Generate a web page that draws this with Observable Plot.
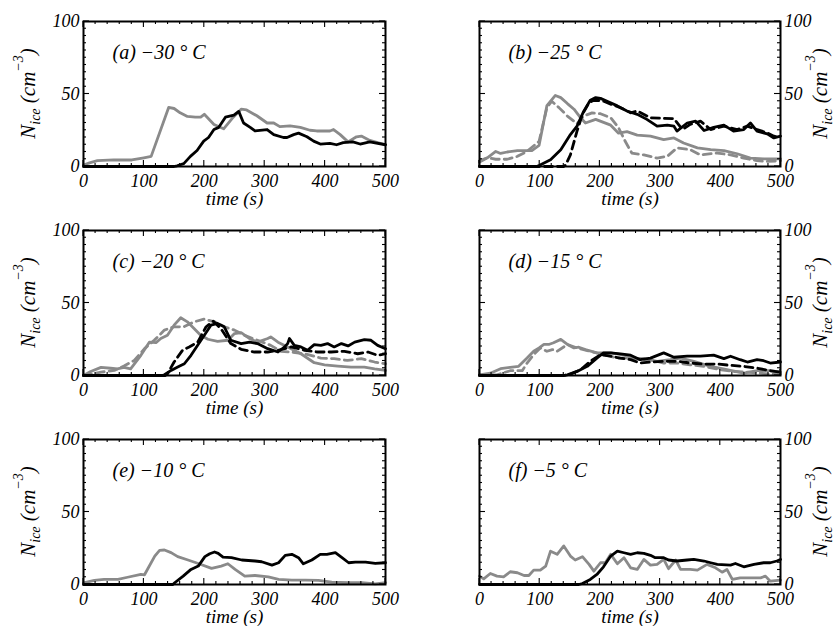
<!DOCTYPE html>
<html><head><meta charset="utf-8">
<script src="https://cdn.jsdelivr.net/npm/d3@7"></script>
<script src="https://cdn.jsdelivr.net/npm/@observablehq/plot@0.6"></script>
<style>
html,body{margin:0;padding:0;background:#fff;overflow:hidden;}
#wrap{position:relative;width:837px;height:626px;overflow:hidden;}
#wrap svg{position:absolute;}
</style></head><body><div id="wrap"></div>
<script>
// ---- tick labels / tick positions ----
const xTickLabels = [0, 100, 200, 300, 400, 500];
const yTickLabels = [0, 50, 100];
const xMinorTicks = [0,20,40,60,80,100,120,140,160,180,200,220,240,260,280,300,320,340,360,380,400,420,440,460,480,500];
const yMinorTicks = [0,5,10,15,20,25,30,35,40,45,50,55,60,65,70,75,80,85,90,95,100];
const xTitle = "time (s)";
const panelLabels = ["(a) −30 ° C", "(b) −25 ° C", "(c) −20 ° C", "(d) −15 ° C", "(e) −10 ° C", "(f) −5 ° C"];

// ---- series: [time (s), N_ice (cm^-3)] ----
const a_gray = [[0,1],[10,2.5],[23,4],[50,4.5],[80,4.5],[100,6],[112,7],[141,40.7],[150,40],[160,37],[172,34.5],[185,34],[194,34],[200,36],[216,29],[232,26],[248,34],[261,39.5],[270,39],[287,35],[304,30],[315,30],[325,27.5],[342,28],[359,27],[375,25],[386,24.5],[408,24.5],[414,25.5],[425,22],[438,17],[452,20.5],[460,21],[474,18],[500,15]];
const a_black = [[0,0],[150,0],[155,0.5],[166,2],[177,7],[188,11],[199,17.5],[207,20],[216,25.5],[224,27],[235,34],[249,35.5],[257,38],[265,30],[276,27],[284,24.5],[304,25.5],[315,22],[331,20],[337,20],[348,22],[356,23],[370,20.5],[381,17.5],[392,15.5],[408,16],[419,15],[430,16.5],[446,17],[458,15.5],[474,17],[500,15]];

const b_gray = [[0,4],[13,6],[27,10.4],[35,9],[46,10],[63,11],[79,11],[87,11],[99,14.6],[112,42],[126,49],[135,47.5],[146,43.4],[157,39.5],[168,33.6],[176,30],[193,32.5],[218,28.5],[231,23],[245,24],[262,21.6],[284,21],[306,18.5],[323,19.7],[339,16.2],[362,12.8],[384,11.6],[406,11],[428,8.8],[450,5.8],[472,5.3],[500,5.3]];
const b_grayDash = [[0,3],[13,6],[27,5],[46,5],[63,7],[79,10.4],[99,17.4],[112,40.6],[120,45],[132,40.6],[146,34.8],[162,29.5],[173,34.8],[187,37],[201,36.4],[218,33.6],[231,26.7],[242,17.4],[253,9.3],[273,8],[295,5.8],[312,7],[328,12.8],[350,11.6],[367,8],[395,9.3],[417,8],[439,5.8],[461,4],[478,3.5],[500,4]];
const b_black = [[0,0],[95,0],[99,0.7],[118,4.6],[135,11.6],[151,22],[162,27.8],[173,38],[184,45.7],[193,47.5],[201,47],[212,45],[229,41.8],[245,38.3],[262,36],[278,32.5],[295,27.8],[312,28.5],[323,27.8],[328,24.4],[345,30],[359,31.3],[373,24.8],[389,27],[406,28.5],[422,24.4],[439,25.5],[450,30],[461,24.4],[478,22.5],[489,19.7],[500,20.9]];
const b_blackDash = [[0,0],[140,0],[143,1],[151,8],[162,24.4],[171,36],[182,44],[190,45.7],[204,45.4],[218,43],[234,40.6],[251,37],[262,38.3],[284,33.6],[306,33.2],[323,33],[337,25.5],[350,29],[367,31.3],[384,25.5],[406,27.8],[428,25.5],[445,27.8],[461,25.5],[478,23.2],[489,20.9],[500,20]];

const c_gray = [[0,0],[12,2.8],[29,5.6],[45,5],[56,4.6],[67,5.6],[78,4.6],[95,13.9],[109,23],[120,22.7],[128,25.5],[139,27.8],[150,34.7],[161,39.8],[172,37],[183,32.4],[194,27.8],[206,25],[222,23.6],[239,24.3],[250,28.9],[261,29.6],[275,25.5],[288,23],[305,25.5],[310,26.6],[322,23],[338,19.7],[360,15],[382,8.8],[399,7.4],[421,6.5],[443,5.8],[465,5.8],[482,4.6],[500,3.5]];
const c_grayDash = [[0,0],[12,1],[29,2.3],[51,3.5],[67,6.5],[84,10.4],[101,18.5],[117,24.3],[134,31.3],[150,33.6],[166,33.6],[183,37],[200,38.9],[217,37],[233,33.6],[250,31.3],[266,27.8],[288,24.3],[310,20.8],[327,16.7],[344,16.2],[366,15],[393,12],[415,11.6],[437,10.4],[460,11.6],[482,9.3],[500,8.1]];
const c_black = [[0,0],[130,0],[134,0.5],[145,3.5],[156,5.8],[167,8.1],[178,13.9],[189,20.8],[200,27.8],[211,34.7],[222,35.9],[233,33.6],[244,24.3],[261,22],[275,23],[288,22],[305,18.5],[322,16.2],[333,19.7],[338,22],[341,25.5],[349,20.8],[360,19.7],[371,17.4],[382,21.3],[393,20.8],[404,22],[415,19.7],[427,22],[438,20.4],[449,23],[465,24.7],[476,24.3],[487,20.8],[500,18.5]];
const c_blackDash = [[0,0],[135,0],[139,1.2],[150,9.3],[164,17.4],[175,19.7],[189,23],[203,33.6],[215,37.5],[228,32],[244,22],[261,18.1],[283,16.2],[305,16.2],[322,17.4],[344,19.7],[366,17.4],[388,16.2],[410,16.2],[432,16.7],[454,15],[471,16.2],[487,13.9],[500,15]];

const d_gray = [[0,0.5],[18,1.6],[35,4.7],[51,5.6],[65,6.3],[79,12],[90,16.7],[99,19],[107,21.4],[115,21.4],[123,22.6],[135,24.9],[146,21.4],[157,19],[165,19.5],[176,17.9],[195,15.6],[218,15.6],[240,14],[256,12],[273,11.6],[295,9.8],[317,10.9],[334,12],[356,9.8],[384,6.3],[411,4],[439,1.6],[461,3.3],[483,3.3],[500,2.3]];
const d_grayDash = [[0,0.5],[29,0.5],[51,3.3],[71,3.3],[79,8.6],[90,14.4],[101,19],[112,16.7],[121,17.9],[129,16.7],[146,21.4],[162,19],[184,16.7],[206,14.4],[229,12],[251,12],[267,10.9],[284,10.9],[306,8.6],[328,8.6],[350,7.4],[373,6.3],[400,4],[422,2.8],[445,2.3],[467,1.6],[483,0.9],[500,0.9]];
const d_black = [[0,0],[140,0],[146,0.5],[162,2.8],[179,6.3],[195,12],[206,15.6],[218,15.6],[234,14.9],[251,14],[267,10.9],[284,12],[306,15.6],[323,12.6],[345,13.3],[367,13.3],[389,14],[406,11.6],[417,13.3],[433,10.9],[445,9.3],[461,10.9],[472,10.2],[483,8.6],[500,9.3]];
const d_blackDash = [[0,0],[140,0],[151,0.9],[168,4],[184,9.8],[201,14.4],[218,13.3],[234,12],[251,10.9],[267,8.6],[284,9.3],[306,9.8],[328,9.8],[350,8.6],[373,7.9],[395,7.9],[417,7],[439,6.3],[461,5.1],[483,3.3],[500,2.3]];

const e_gray = [[0,1.2],[18,2.8],[34,3.5],[57,3.5],[73,5],[95,7],[101,6.7],[118,19.6],[126,23.6],[134,23.8],[145,22],[156,19.2],[173,16.9],[190,14.5],[212,11.1],[228,12.7],[239,14.3],[251,10.4],[267,5.8],[284,6.2],[306,5.3],[323,3.5],[345,3],[367,3],[389,2.8],[411,1.6],[439,1.2],[461,1.2],[483,0.5],[500,1.2]];
const e_black = [[0,0],[148,0],[151,1.2],[165,5.8],[178,10.4],[190,12.7],[201,19.2],[209,21.2],[217,22.4],[223,21.5],[231,18.9],[245,18.5],[262,16.9],[284,16.2],[295,15.7],[312,13.4],[323,15],[334,20.1],[345,20.8],[356,18.5],[364,14.3],[378,16.9],[392,20.8],[403,20.8],[417,21.9],[428,18.5],[439,15],[450,15.5],[467,15.5],[483,14.5],[500,15]];

const f_gray = [[0,5.8],[7,3.9],[18,7.6],[29,5.8],[40,5.3],[51,8.8],[63,8.1],[74,6.2],[82,6.2],[90,9.9],[101,9.9],[110,12.7],[118,23],[129,20.8],[140,26.6],[151,19.6],[159,16.9],[171,19.2],[182,13.9],[190,9.2],[201,15],[209,15],[218,20.8],[229,14.3],[240,18.5],[251,11.5],[262,10.4],[273,17.3],[284,13.4],[295,13.9],[306,17.3],[314,10.9],[326,16.9],[334,10.4],[350,10.4],[362,9.9],[378,13.9],[392,11.5],[403,8.5],[411,10.4],[420,3.5],[433,4.6],[450,4.6],[467,4.6],[475,5.8],[483,2.3],[500,3]];
const f_black = [[0,0],[165,0],[171,0.7],[184,3.5],[195,6.9],[206,12.2],[218,19.6],[229,23],[240,21.9],[251,20.8],[262,21.9],[273,21.5],[284,20.1],[292,18.5],[306,18.5],[314,16.9],[328,16.2],[345,16.9],[356,17.3],[373,16.2],[384,15],[395,13.9],[417,13.4],[425,14.5],[439,12.2],[456,13.9],[472,15],[483,15],[494,16.2],[500,17.3]];

// ---- styles ----
const BLACK = "#000000", GRAY = "#8a8a8a";
const solid = null, dashed = "8,5";

const panels = [
  {label: panelLabels[0], col: 0, row: 0, series: [[a_gray, GRAY, solid], [a_black, BLACK, solid]]},
  {label: panelLabels[1], col: 1, row: 0, series: [[b_grayDash, GRAY, dashed], [b_gray, GRAY, solid], [b_blackDash, BLACK, dashed], [b_black, BLACK, solid]]},
  {label: panelLabels[2], col: 0, row: 1, series: [[c_grayDash, GRAY, dashed], [c_gray, GRAY, solid], [c_blackDash, BLACK, dashed], [c_black, BLACK, solid]]},
  {label: panelLabels[3], col: 1, row: 1, series: [[d_grayDash, GRAY, dashed], [d_gray, GRAY, solid], [d_blackDash, BLACK, dashed], [d_black, BLACK, solid]]},
  {label: panelLabels[4], col: 0, row: 2, series: [[e_gray, GRAY, solid], [e_black, BLACK, solid]]},
  {label: panelLabels[5], col: 1, row: 2, series: [[f_gray, GRAY, solid], [f_black, BLACK, solid]]}
];

const FONT = "'Liberation Serif', 'Times New Roman', serif";

// inward ticks on all four sides, placed with the plot's own scales
function inwardTicks(index, scales, values, dims) {
  const g = d3.create("svg:g").attr("stroke", "black").attr("stroke-width", 1.1).attr("fill", "none");
  const xl = dims.marginLeft, xr = dims.width - dims.marginRight;
  const yt = dims.marginTop, yb = dims.height - dims.marginBottom;
  for (const t of xMinorTicks) {
    const px = scales.x(t), len = xTickLabels.includes(t) ? 6 : 3;
    g.append("line").attr("x1", px).attr("x2", px).attr("y1", yb).attr("y2", yb - len);
    g.append("line").attr("x1", px).attr("x2", px).attr("y1", yt).attr("y2", yt + len);
  }
  for (const v of yMinorTicks) {
    const py = scales.y(v), len = yTickLabels.includes(v) ? 6 : 3;
    g.append("line").attr("y1", py).attr("y2", py).attr("x1", xl).attr("x2", xl + len);
    g.append("line").attr("y1", py).attr("y2", py).attr("x1", xr).attr("x2", xr - len);
  }
  return g.node();
}

function yLabel(side) {
  return (index, scales, values, dims) => {
    const cy = dims.marginTop + (dims.height - dims.marginTop - dims.marginBottom) / 2;
    const x = side === "left" ? dims.marginLeft - 48 : dims.width - dims.marginRight + 47;
    const t = d3.create("svg:text")
      .attr("transform", `translate(${x},${cy}) rotate(-90)`)
      .attr("text-anchor", "middle")
      .attr("font-size", 21)
      .attr("font-family", FONT)
      .attr("font-style", "italic")
      .attr("fill", "black");
    t.append("tspan").text("N");
    t.append("tspan").attr("font-size", 14).attr("dy", 5).text("ice");
    t.append("tspan").attr("dy", -5).text(" (cm");
    t.append("tspan").attr("font-size", 14).attr("dy", -12).text("−3");
    t.append("tspan").attr("dy", 12).text(")");
    return t.node();
  };
}

const wrap = document.getElementById("wrap");
const frameTops = [21, 230, 439];

for (const p of panels) {
  const left = p.col === 0;
  const width = left ? 418 : 419;
  const mL = left ? 83 : 61;
  const mR = left ? 33 : 57;
  const mT = 10, mB = 45;
  const side = left ? "left" : "right";
  const marks = [];
  for (const [data, color, dash] of p.series) {
    marks.push(Plot.line(data, {x: d => d[0], y: d => d[1], stroke: color, strokeWidth: 2.8, strokeDasharray: dash, strokeLinejoin: "round"}));
  }
  marks.push(inwardTicks);
  marks.push(Plot.axisX({anchor: "bottom", ticks: xTickLabels, tickSize: 0, tickPadding: 8, fontSize: 18, label: null, tickFormat: d => String(d)}));
  marks.push(Plot.axisY({anchor: side, ticks: yTickLabels, tickSize: 0, tickPadding: 4, fontSize: 18, label: null, tickFormat: d => String(d)}));
  marks.push(Plot.frame({stroke: "black", strokeWidth: 2}));
  marks.push(Plot.text([xTitle], {text: d => d, frameAnchor: "bottom", dy: 38, lineAnchor: "bottom", textAnchor: "middle", fontSize: 19}));
  marks.push(Plot.text([p.label], {text: d => d, frameAnchor: "top-left", dx: 29, dy: 37, lineAnchor: "bottom", textAnchor: "start", fontSize: 20}));
  marks.push(yLabel(side));

  const svg = Plot.plot({
    width, height: mT + 145 + mB,
    marginLeft: mL, marginRight: mR, marginTop: mT, marginBottom: mB,
    x: {domain: [0, 500]},
    y: {domain: [0, 100]},
    style: {fontFamily: FONT, fontStyle: "italic", color: "black", background: "transparent", overflow: "visible"},
    marks
  });
  svg.style.left = (left ? 0 : 418) + "px";
  svg.style.top = (frameTops[p.row] - mT) + "px";
  wrap.appendChild(svg);
}
</script>
</body></html>
